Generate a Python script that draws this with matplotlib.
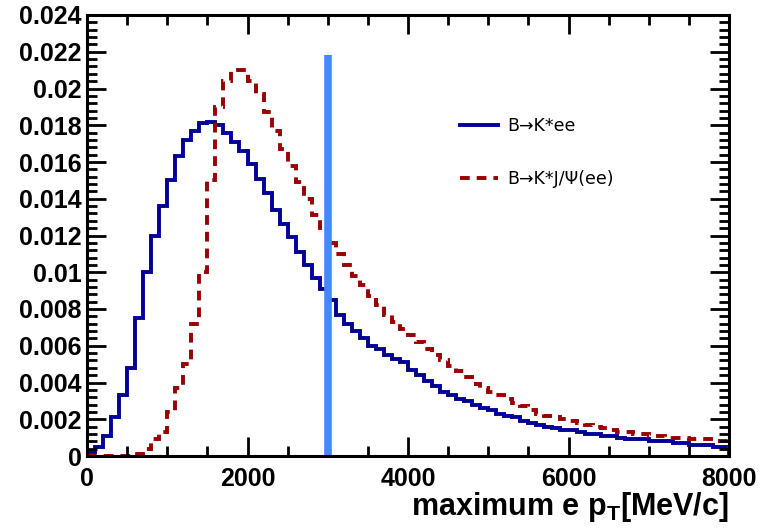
import matplotlib
matplotlib.use("Agg")
import matplotlib.pyplot as plt
import numpy as np

plt.rcParams['font.family'] = ['Liberation Sans', 'DejaVu Sans']
plt.rcParams['mathtext.fontset'] = 'custom'
plt.rcParams['mathtext.rm'] = 'Liberation Sans:bold'
plt.rcParams['mathtext.bf'] = 'Liberation Sans:bold'

# histogram bins, 100 MeV wide
edges = np.arange(0, 8001, 100)

# B -> K* ee
kee = [0.0002, 0.0005, 0.0011, 0.0021, 0.0033, 0.0048, 0.0075, 0.0100, 0.0120, 0.0136,
       0.0150, 0.0163, 0.0172, 0.0177, 0.0181, 0.0182, 0.0180, 0.0176, 0.0171, 0.0166,
       0.0159, 0.0151, 0.0143, 0.0134, 0.0126, 0.0119, 0.0111, 0.0104, 0.0097, 0.0091,
       0.0085, 0.0077, 0.0072, 0.0068, 0.0064, 0.0060, 0.0058, 0.0055, 0.0053, 0.0051,
       0.0047, 0.0044, 0.0041, 0.0038, 0.0035, 0.0033, 0.0031, 0.0030, 0.0028, 0.0026,
       0.0025, 0.0023, 0.0022, 0.0021, 0.0019, 0.0018, 0.0017, 0.0016, 0.0015, 0.0014,
       0.0014, 0.0013, 0.0012, 0.0012, 0.0011, 0.0011, 0.0010, 0.0009, 0.0009, 0.0009,
       0.0008, 0.0008, 0.0008, 0.0007, 0.0007, 0.0006, 0.0006, 0.0006, 0.0005, 0.0005]

# B -> K* J/psi(ee)
kjpsi = [0.0, 0.0, 0.0, 0.0, 0.0, 0.0, 0.0001, 0.0004, 0.0009, 0.0013,
         0.0024, 0.0037, 0.0050, 0.0072, 0.0100, 0.0150, 0.0190, 0.0204, 0.0210, 0.0210,
         0.0204, 0.0197, 0.0187, 0.0177, 0.0167, 0.0158, 0.0149, 0.0140, 0.0131, 0.0124,
         0.0116, 0.0110, 0.0104, 0.0098, 0.0093, 0.0087, 0.0082, 0.0077, 0.0073, 0.0069,
         0.0066, 0.0062, 0.0058, 0.0055, 0.0052, 0.0049, 0.0046, 0.0043, 0.0039, 0.0037,
         0.0035, 0.0033, 0.0031, 0.0029, 0.0027, 0.0025, 0.0023, 0.0022, 0.0021, 0.0020,
         0.0019, 0.0018, 0.0017, 0.0016, 0.0015, 0.0014, 0.0013, 0.0013, 0.0012, 0.0012,
         0.0011, 0.0011, 0.0010, 0.0010, 0.0010, 0.0009, 0.0009, 0.0009, 0.0008, 0.0008]

cut_x = 3000
cut_top = 0.0218

xticks = [0, 2000, 4000, 6000, 8000]
yticks = np.arange(0, 0.0241, 0.002)

fig = plt.figure(figsize=(7.6, 5.28), dpi=100)
ax = fig.add_axes([87/760, 1 - 456/528, 642/760, 441/528])

ax.stairs(kee, edges, color='#000099', lw=2.8, label='B\u2192K*ee')
ax.stairs(kjpsi, edges, color='#990000', lw=2.8, ls=(0, (2.5, 1.8)), label='B\u2192K*J/\u03a8(ee)')
ax.plot([cut_x, cut_x], [0, cut_top], color='#4488ff', lw=5.5, solid_capstyle='butt')

ax.set_xlim(0, 8000)
ax.set_ylim(0, 0.024)
ax.set_xticks(xticks)
ax.set_xticks(np.arange(0, 8001, 500), minor=True)
ax.set_yticks(yticks)
ax.set_yticklabels(['%g' % round(v, 3) for v in yticks])
ax.set_yticks(np.arange(0, 0.0241, 0.0004), minor=True)

ax.tick_params(which='both', direction='in', top=True, right=True, width=2)
ax.tick_params(which='major', length=14, labelsize=18)
ax.tick_params(which='minor', length=7)
ax.tick_params(axis='y', pad=4)
ax.tick_params(axis='x', pad=8)
for lab in ax.get_xticklabels() + ax.get_yticklabels():
    lab.set_fontweight('bold')
for sp in ax.spines.values():
    sp.set_linewidth(2.2)

ax.set_xlabel('maximum e p$_\\mathrm{T}$[MeV/c]', fontsize=22, fontweight='bold', ha='right')
ax.xaxis.set_label_coords(1.0, -0.078)

ax.legend(loc='upper left', bbox_to_anchor=(460/760, 1 - 117/528), bbox_transform=fig.transFigure,
          frameon=False, prop={'family': 'DejaVu Sans', 'size': 12.5}, handlelength=2.2,
          handletextpad=0.5, labelspacing=2.0, borderpad=0, borderaxespad=0)

fig.savefig('out.png', dpi=100)
